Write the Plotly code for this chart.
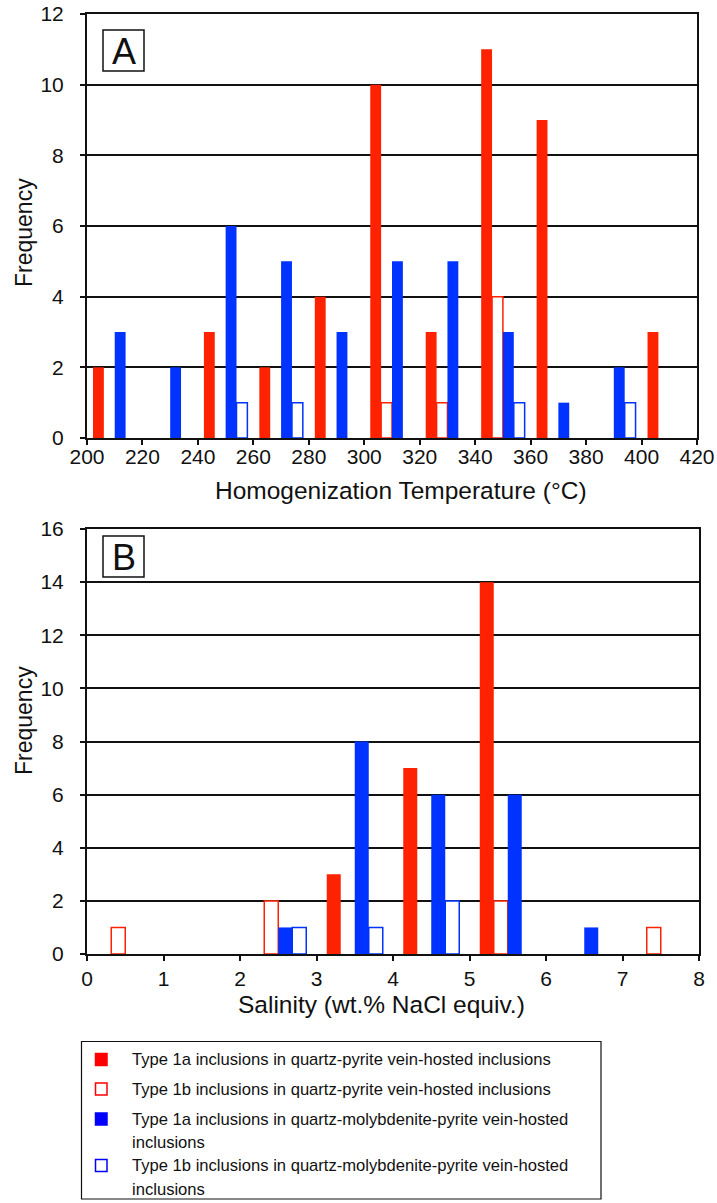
import plotly.graph_objects as go

# Panel A: homogenization temperature histogram (20 degC bins, labelled by bin centre)
temp_bins = [210, 230, 250, 270, 290, 310, 330, 350, 370, 390, 410]
temp_qp_1a = [2, 0, 3, 2, 4, 10, 3, 11, 9, 0, 3]
temp_qp_1b = [0, 0, 0, 0, 0, 1, 1, 4, 0, 0, 0]
temp_qmp_1a = [3, 2, 6, 5, 3, 5, 5, 3, 1, 2, 0]
temp_qmp_1b = [0, 0, 1, 1, 0, 0, 0, 1, 0, 1, 0]

# Panel B: salinity histogram (1 wt.% bins, labelled by bin centre)
sal_bins = [0.5, 1.5, 2.5, 3.5, 4.5, 5.5, 6.5, 7.5]
sal_qp_1a = [0, 0, 0, 3, 7, 14, 0, 0]
sal_qp_1b = [1, 0, 2, 0, 0, 2, 0, 1]
sal_qmp_1a = [0, 0, 1, 8, 6, 6, 1, 0]
sal_qmp_1b = [0, 0, 1, 1, 2, 0, 0, 0]

series_names = [
    "Type 1a inclusions in quartz-pyrite vein-hosted inclusions",
    "Type 1b inclusions in quartz-pyrite vein-hosted inclusions",
    "Type 1a inclusions in quartz-molybdenite-pyrite vein-hosted<br>inclusions",
    "Type 1b inclusions in quartz-molybdenite-pyrite vein-hosted<br>inclusions",
]

W, H = 717, 1203
RED = "#ff2200"
BLUE = "#0033ff"
INK = "#111111"
FONT = "Liberation Sans, Arial, sans-serif"


def px(x):
    return x / W


def py(y):
    return 1 - y / H


# fill colour, outline colour, outline width for the four series
styles = [
    (RED, RED, 0),
    ("white", RED, 1.5),
    (BLUE, BLUE, 0),
    ("white", BLUE, 1.5),
]

fig = go.Figure()


def add_panel(bins, series, slot, xaxis, yaxis):
    for k, (vals, (fill, line, lw)) in enumerate(zip(series, styles)):
        # empty bins get no bar at all
        xs = [b for b, v in zip(bins, vals) if v > 0]
        ys = [v for v in vals if v > 0]
        fig.add_trace(go.Bar(
            x=xs, y=ys, name=series_names[k].replace("<br>", " "),
            width=slot, offset=(k - 2) * slot,
            marker=dict(color=fill, line=dict(color=line, width=lw)),
            xaxis=xaxis, yaxis=yaxis, showlegend=False,
        ))


add_panel(temp_bins, [temp_qp_1a, temp_qp_1b, temp_qmp_1a, temp_qmp_1b], 3.92, "x", "y")
add_panel(sal_bins, [sal_qp_1a, sal_qp_1b, sal_qmp_1a, sal_qmp_1b], 0.183, "x2", "y2")

axis_common = dict(
    showline=True, linecolor=INK, linewidth=2, mirror=True,
    ticks="outside", ticklen=5, tickwidth=1.5, tickcolor=INK,
    tickfont=dict(family=FONT, size=21, color=INK),
    zeroline=False, automargin=False,
)

fig.update_layout(
    template="none",
    width=W, height=H,
    margin=dict(l=0, r=0, t=0, b=0, pad=0),
    paper_bgcolor="white", plot_bgcolor="white",
    barmode="overlay",
    font=dict(family=FONT, color=INK),
    xaxis=dict(
        domain=[px(87), px(697)], range=[200, 420], dtick=20, tick0=200,
        showgrid=False, anchor="y", ticklabelstandoff=-6,
        **axis_common,
    ),
    yaxis=dict(
        domain=[py(438), py(14)], range=[0, 12], dtick=2,
        showgrid=True, gridcolor=INK, gridwidth=2, anchor="x",
        ticklabelstandoff=12,
        **axis_common,
    ),
    xaxis2=dict(
        domain=[px(87), px(699)], range=[0, 8], dtick=1, tick0=0,
        showgrid=False, anchor="y2",
        **axis_common,
    ),
    yaxis2=dict(
        domain=[py(954), py(529)], range=[0, 16], dtick=2,
        showgrid=True, gridcolor=INK, gridwidth=2, anchor="x2",
        ticklabelstandoff=12,
        **axis_common,
    ),
)

shapes = []
annotations = []

# Axis titles
axis_titles = [
    ("Homogenization Temperature (°C)", 401, 491, 0, 24.5),
    ("Salinity (wt.% NaCl equiv.)", 382, 1004, 0, 24.5),
    ("Frequency", 24, 233, -90, 23),
    ("Frequency", 24, 721, -90, 23),
]
for text, cx, cy, angle, size in axis_titles:
    annotations.append(dict(text=text, xref="paper", yref="paper",
                            x=px(cx), y=py(cy), xanchor="center", yanchor="middle",
                            textangle=angle, showarrow=False,
                            font=dict(family=FONT, size=size, color=INK)))

# Panel letters in boxes
for letter, top in (("A", 30), ("B", 536)):
    shapes.append(dict(type="rect", xref="paper", yref="paper",
                       x0=px(103), x1=px(144), y0=py(top + 41), y1=py(top),
                       line=dict(color=INK, width=1.5), fillcolor="white"))
    annotations.append(dict(text=letter, xref="paper", yref="paper",
                            x=px(123.5), y=py(top + 21.5), xanchor="center", yanchor="middle",
                            showarrow=False, font=dict(family=FONT, size=36, color=INK)))

# Legend box below the charts
shapes.append(dict(type="rect", xref="paper", yref="paper",
                   x0=px(81.5), x1=px(601), y0=py(1199), y1=py(1041.5),
                   line=dict(color=INK, width=1.2), fillcolor="rgba(0,0,0,0)"))

legend_rows = [1059.5, 1089, 1119, 1165.5]
legend_fill = ["#ff0000", "white", "#0000ff", "white"]
legend_line = ["#ff0000", "#ff0000", "#0000ff", "#0000ff"]
for k, cy in enumerate(legend_rows):
    shapes.append(dict(type="rect", xref="paper", yref="paper",
                       x0=px(95.5), x1=px(107), y0=py(cy + 6), y1=py(cy - 6),
                       line=dict(color=legend_line[k], width=1.5), fillcolor=legend_fill[k]))
    for j, line in enumerate(series_names[k].split("<br>")):
        annotations.append(dict(text=line, xref="paper", yref="paper",
                                x=px(130), y=py(cy + j * 23.5), xanchor="left", yanchor="middle",
                                showarrow=False, font=dict(family=FONT, size=16.6, color=INK)))

fig.update_layout(shapes=shapes, annotations=annotations)

fig.write_html("out.html")
